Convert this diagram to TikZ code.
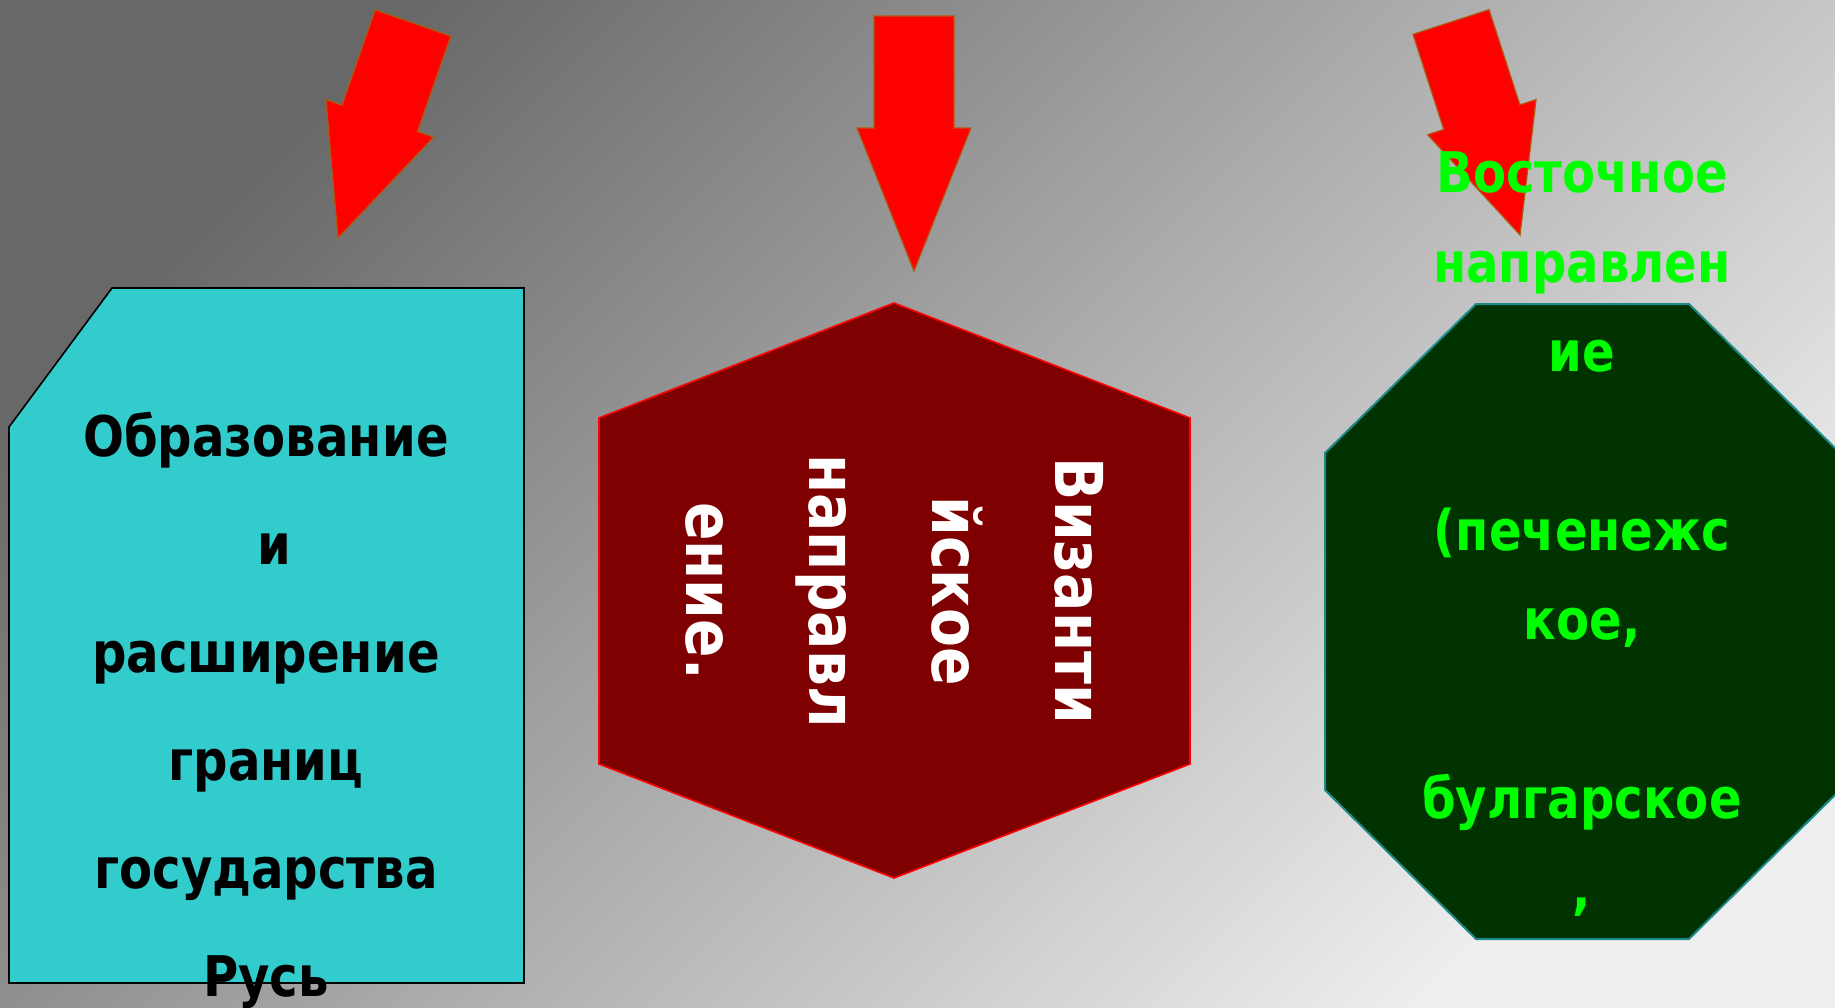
\documentclass[tikz,border=0pt]{standalone}
\usepackage{fontspec}
\setmainfont{DejaVu Sans}[FakeStretch=0.86]
\usetikzlibrary{calc}
\definecolor{cyanbox}{HTML}{33CCCC}
\definecolor{hexfill}{HTML}{7F0000}
\definecolor{octfill}{HTML}{003300}
\definecolor{octline}{HTML}{1A8A8A}
\definecolor{lgreen}{HTML}{00FF00}
\definecolor{arrowred}{HTML}{FF0000}
\definecolor{arrowedge}{HTML}{B05A10}
\definecolor{bgdark}{HTML}{686868}
\definecolor{bgmid}{HTML}{AAAAAA}
\definecolor{bglight}{HTML}{EEEEEE}
\newcommand\blockarrow[4]{% tail, tip, head base distance, name
  \coordinate (#4h) at ($(#1)!#3!(#2)$);
  \filldraw[arrowstyle] ($(#1)!40pt!90:(#2)$) -- ($(#4h)!40pt!90:(#2)$) -- ($(#4h)!57pt!90:(#2)$) -- (#2)
    -- ($(#4h)!57pt!-90:(#2)$) -- ($(#4h)!40pt!-90:(#2)$) -- ($(#1)!40pt!-90:(#2)$) -- cycle;}
\tikzset{
  arrowstyle/.style={fill=arrowred, draw=arrowedge, line width=1.2pt, line join=miter},
  cyanshape/.style={fill=cyanbox, draw=black, line width=1.6pt},
  hexshape/.style={fill=hexfill, draw=red, line width=1.6pt},
  octshape/.style={fill=octfill, draw=octline, line width=2pt},
  cyantext/.style={font=\fontsize{56}{108}\selectfont\bfseries, text=black, align=center, inner sep=0pt},
  hextext/.style={font=\fontsize{66}{123}\selectfont\bfseries, text=white, align=center, inner sep=0pt, rotate=-90},
  greentext/.style={font=\fontsize{56}{89.4}\selectfont\bfseries, text=lgreen, align=center, inner sep=0pt},
}
\begin{document}
\begin{tikzpicture}[x=1pt,y=-1pt]
\useasboundingbox (0,0) rectangle (1835,1007);
\shade[top color=bgdark, middle color=bgmid, bottom color=bglight, shading angle=45] (0,0) rectangle (1835,1007);
% arrows
\coordinate (a1tail) at (413,23);
\coordinate (a1tip) at (338,238);
\coordinate (a2tail) at (914,16);
\coordinate (a2tip) at (914,271);
\coordinate (a3tail) at (1451,22);
\coordinate (a3tip) at (1520,235);
\blockarrow{a1tail}{a1tip}{101pt}{a1}
\blockarrow{a2tail}{a2tip}{112pt}{a2}
\blockarrow{a3tail}{a3tip}{100pt}{a3}
% cyan box
\draw[cyanshape] (112,288) -- (524,288) -- (524,983) -- (9,983) -- (9,427) -- cycle;
\node[cyantext] (ruslabel) at (266,710) {Образование\\\hspace*{16pt}и\\расширение\\границ\\государства\\Русь};
% hexagon
\draw[hexshape] (894,303) -- (1190,418) -- (1190,764) -- (894,878) -- (599,764) -- (599,418) -- cycle;
\node[hextext] (bizlabel) at (894.5,591) {Византи\\йское\\направл\\ение.};
% octagon
\draw[octshape] (1476,304) -- (1689,304) -- (1840,453) -- (1840,790) -- (1689,939) -- (1476,939) -- (1325,790) -- (1325,453) -- cycle;
\node[greentext] (eastlabel) at (1582,534) {Восточное\\направлен\\ие\\\mbox{}\\(печенежс\\кое,\\\mbox{}\\булгарское\\,};
\end{tikzpicture}
\end{document}
